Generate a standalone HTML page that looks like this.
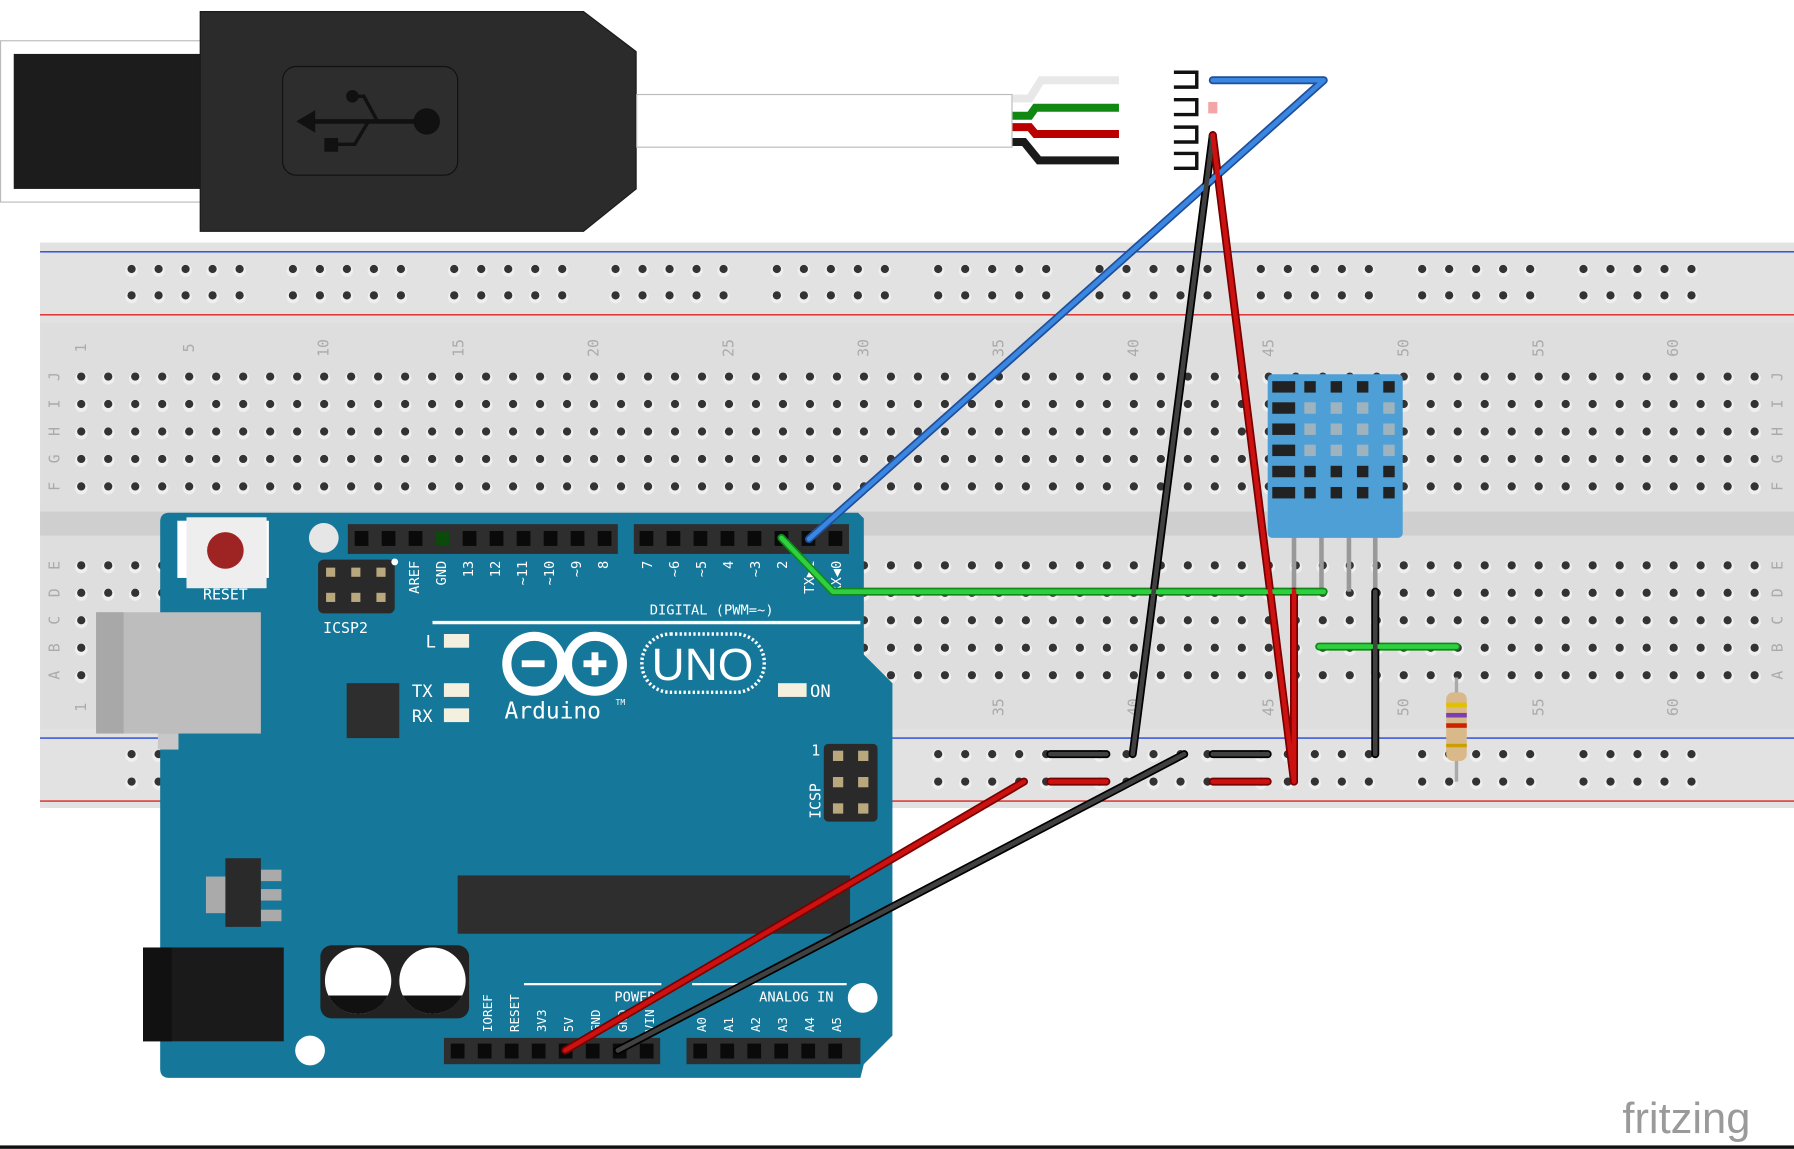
<!DOCTYPE html>
<html><head><meta charset="utf-8"><style>
html,body{margin:0;padding:0;background:#fff;overflow:hidden}
svg{display:block}
text{font-family:"DejaVu Sans Mono","Liberation Mono",monospace}
</style></head><body>
<svg id="s" width="1794" height="1149" viewBox="0 0 1568 1004" xmlns="http://www.w3.org/2000/svg">
<rect width="1568" height="1004" fill="#fff"/>
<rect x="0.5" y="35.5" width="176" height="141" fill="#fff" stroke="#bbb"/>
<rect x="12" y="47" width="165" height="118" fill="#1c1c1c"/>
<polygon points="175,10 510,10 556,45 556,165 510,202 175,202" fill="#2b2b2b" stroke="#1a1a1a"/>
<rect x="247" y="58" width="153" height="95" rx="12" fill="#2d2d2d" stroke="#111"/>
<g fill="#111" stroke="#111">
<line x1="268" y1="106" x2="372" y2="106" stroke-width="4"/>
<polygon points="260,106 275,97 275,115"/>
<circle cx="373" cy="106" r="11"/>
<circle cx="308" cy="84" r="5"/>
<polyline points="308,84 318,84 330,106" fill="none" stroke-width="3"/>
<rect x="284" y="121" width="11" height="11"/>
<polyline points="292,126 310,126 322,106" fill="none" stroke-width="3"/>
</g>
<rect x="556.5" y="82.5" width="328" height="46" fill="#fff" stroke="#bbb"/>
<g fill="none" stroke-width="7">
<polyline points="885,86 900,86 910,70 978,70" stroke="#e8e8e8"/>
<polyline points="885,101 900,101 905,94 978,94" stroke="#118811"/>
<polyline points="885,111 900,111 905,117 978,117" stroke="#bb0000"/>
<polyline points="885,124 895,124 908,140 978,140" stroke="#1a1a1a"/>
</g>
<g fill="none" stroke="#111" stroke-width="3">
<polyline points="1026,63 1046,63 1046,76 1026,76"/>
<polyline points="1026,87 1046,87 1046,100 1026,100"/>
<polyline points="1026,111 1046,111 1046,124 1026,124"/>
<polyline points="1026,134 1046,134 1046,147 1026,147"/>
</g>
<rect x="1056" y="89" width="8" height="10" fill="#f4a6a6"/>
<rect x="35" y="212" width="1533" height="494" fill="#dedede"/>
<rect x="35" y="212" width="1533" height="70" fill="#e2e2e2"/>
<rect x="35" y="637" width="1533" height="69" fill="#e2e2e2"/>
<rect x="35" y="447" width="1533" height="21" fill="#cfcfcf"/>
<line x1="35" y1="220" x2="1568" y2="220" stroke="#2244dd" stroke-width="1.2"/>
<line x1="35" y1="275" x2="1568" y2="275" stroke="#dd2222" stroke-width="1.2"/>
<line x1="35" y1="645" x2="1568" y2="645" stroke="#2244dd" stroke-width="1.2"/>
<line x1="35" y1="700" x2="1568" y2="700" stroke="#dd2222" stroke-width="1.2"/>
<g id="holes"></g>
<g id="labels" fill="#aaa" font-size="13"></g>
<path d="M148,448 L750,448 L755,453 L755,572 L780,597 L780,905 L755,930 L752,942 L148,942 Q140,942 140,934 L140,456 Q140,448 148,448 Z" fill="#15789a"/>
<rect x="84" y="535" width="144" height="106" fill="#bdbdbd"/>
<rect x="84" y="535" width="24" height="106" fill="#a8a8a8"/>
<rect x="138" y="641" width="18" height="14" fill="#c8c8c8"/>
<rect x="155" y="455" width="80" height="50" fill="#fff"/>
<rect x="163" y="452" width="70" height="62" fill="#eee"/>
<circle cx="197" cy="481" r="16" fill="#9e2323"/>
<text x="197" y="524" fill="#fff" font-size="13" text-anchor="middle">RESET</text>
<circle cx="283" cy="470" r="13" fill="#e6e6e6"/>
<circle cx="271" cy="918" r="13" fill="#fff"/>
<circle cx="754" cy="872" r="13" fill="#fff"/>
<rect x="304" y="458" width="236" height="26" fill="#2e2e2e"/>
<rect x="554" y="458" width="188" height="26" fill="#2e2e2e"/>
<rect x="388" y="907" width="189" height="23" fill="#2e2e2e"/>
<rect x="600" y="907" width="152" height="23" fill="#2e2e2e"/>
<g id="pins" fill="#0a0a0a"></g>
<rect x="278" y="489" width="67" height="47" rx="5" fill="#2a2a2a"/>
<g fill="#b9a77e">
<rect x="285" y="496" width="8" height="8"/><rect x="307" y="496" width="8" height="8"/><rect x="329" y="496" width="8" height="8"/>
<rect x="285" y="518" width="8" height="8"/><rect x="307" y="518" width="8" height="8"/><rect x="329" y="518" width="8" height="8"/>
</g>
<text x="302" y="553" fill="#fff" font-size="13" text-anchor="middle">ICSP2</text>
<circle cx="345" cy="491" r="3" fill="#fff"/>
<g fill="#fff" font-size="12" id="dlabels"></g>
<text x="622" y="537" fill="#fff" font-size="12" text-anchor="middle">DIGITAL (PWM=~)</text>
<line x1="378" y1="544" x2="752" y2="544" stroke="#fff" stroke-width="3"/>
<g fill="#f4f0e0"><rect x="388" y="554" width="22" height="12"/><rect x="388" y="597" width="22" height="12"/><rect x="388" y="619" width="22" height="12"/><rect x="680" y="597" width="25" height="12"/></g>
<g fill="#fff" font-size="15"><text x="372" y="566">L</text><text x="360" y="609">TX</text><text x="360" y="631">RX</text><text x="708" y="609">ON</text></g>
<rect x="303" y="597" width="46" height="48" fill="#2e2e2e"/>
<g fill="none" stroke="#fff" stroke-width="8">
<circle cx="467" cy="580" r="24"/><circle cx="520" cy="580" r="24"/>
</g>
<g fill="#fff"><rect x="456" y="577" width="20" height="6"/><rect x="510" y="577" width="20" height="6"/><rect x="517" y="570" width="6" height="20"/></g>
<rect x="561" y="554" width="107" height="51" rx="25" fill="none" stroke="#fff" stroke-width="3" stroke-dasharray="2 2"/>
<text x="614" y="594" fill="#fff" font-size="40" text-anchor="middle" style="font-family:'Liberation Sans',sans-serif">UNO</text>
<text x="441" y="628" fill="#fff" font-size="20">Arduino</text><text x="538" y="616" fill="#fff" font-size="7">TM</text>
<rect x="720" y="650" width="47" height="68" rx="4" fill="#2a2a2a"/>
<g fill="#b9a77e"><rect x="728" y="656" width="9" height="9"/><rect x="750" y="656" width="9" height="9"/><rect x="728" y="679" width="9" height="9"/><rect x="750" y="679" width="9" height="9"/><rect x="728" y="702" width="9" height="9"/><rect x="750" y="702" width="9" height="9"/></g>
<text x="713" y="660" fill="#fff" font-size="13" text-anchor="middle">1</text>
<text transform="translate(717,700) rotate(-90)" fill="#fff" font-size="13" text-anchor="middle">ICSP</text>
<rect x="400" y="765" width="343" height="51" fill="#2e2e2e"/>
<rect x="180" y="766" width="20" height="32" fill="#aaa"/>
<rect x="228" y="760" width="18" height="10" fill="#aaa"/><rect x="228" y="777" width="18" height="10" fill="#aaa"/><rect x="228" y="795" width="18" height="10" fill="#aaa"/>
<rect x="197" y="750" width="31" height="60" fill="#2a2a2a"/>
<rect x="125" y="828" width="123" height="82" fill="#1a1a1a"/>
<rect x="125" y="828" width="25" height="82" fill="#111"/>
<rect x="280" y="826" width="130" height="64" rx="10" fill="#222"/>
<circle cx="313" cy="857" r="29" fill="#fff"/><path d="M287,870 A29,29 0 0 0 339,870 Z" fill="#111"/>
<circle cx="378" cy="857" r="29" fill="#fff"/><path d="M352,870 A29,29 0 0 0 404,870 Z" fill="#111"/>
<line x1="458" y1="860" x2="578" y2="860" stroke="#fff" stroke-width="2"/>
<line x1="605" y1="860" x2="740" y2="860" stroke="#fff" stroke-width="2"/>
<text x="555" y="875" fill="#fff" font-size="12" text-anchor="middle">POWER</text>
<text x="696" y="875" fill="#fff" font-size="12" text-anchor="middle">ANALOG IN</text>
<g fill="#fff" font-size="11" id="plabels"></g>
<g stroke="#999" stroke-width="4"><line x1="1131" y1="468" x2="1131" y2="517"/><line x1="1155" y1="468" x2="1155" y2="517"/><line x1="1179" y1="468" x2="1179" y2="517"/><line x1="1202" y1="468" x2="1202" y2="517"/></g>
<rect x="1108" y="327" width="118" height="143" rx="4" fill="#4d9fd6"/>
<g id="dht" fill="#222"></g>
<line x1="1273" y1="592" x2="1273" y2="683" stroke="#aaa" stroke-width="3"/>
<rect x="1264" y="605" width="18" height="60" rx="6" fill="#d9b98a"/>
<rect x="1264" y="614" width="18" height="4" fill="#e0c000"/><rect x="1264" y="623" width="18" height="4" fill="#7a3fb0"/><rect x="1264" y="632" width="18" height="4" fill="#cc2200"/><rect x="1264" y="650" width="18" height="3" fill="#c9a000"/>
<g fill="none" stroke-linecap="round" stroke-linejoin="round">
<g stroke-width="7">
<polyline points="1060,70 1157,70 707,471" stroke="#1f4f99"/>
<polyline points="683,470 728,517 1157,517" stroke="#11881a"/>
<line x1="1153" y1="565" x2="1273" y2="565" stroke="#11881a"/>
<line x1="1060" y1="118" x2="990" y2="659" stroke="#000"/>
<line x1="1035" y1="659" x2="540" y2="918" stroke="#000"/>
<line x1="1202" y1="517" x2="1202" y2="659" stroke="#000"/>
<line x1="918" y1="659" x2="967" y2="659" stroke="#000"/>
<line x1="1060" y1="659" x2="1108" y2="659" stroke="#000"/>
<line x1="1060" y1="118" x2="1131" y2="683" stroke="#7a0000"/>
<line x1="1131" y1="517" x2="1131" y2="683" stroke="#7a0000"/>
<line x1="895" y1="683" x2="494" y2="918" stroke="#7a0000"/>
<line x1="918" y1="683" x2="967" y2="683" stroke="#7a0000"/>
<line x1="1060" y1="683" x2="1108" y2="683" stroke="#7a0000"/>
</g>
<g stroke-width="4">
<polyline points="1060,70 1157,70 707,471" stroke="#3a86e0"/>
<polyline points="683,470 728,517 1157,517" stroke="#2fd040"/>
<line x1="1153" y1="565" x2="1273" y2="565" stroke="#2fd040"/>
<line x1="1060" y1="118" x2="990" y2="659" stroke="#404040"/>
<line x1="1035" y1="659" x2="540" y2="918" stroke="#404040"/>
<line x1="1202" y1="517" x2="1202" y2="659" stroke="#404040"/>
<line x1="918" y1="659" x2="967" y2="659" stroke="#404040"/>
<line x1="1060" y1="659" x2="1108" y2="659" stroke="#404040"/>
<line x1="1060" y1="118" x2="1131" y2="683" stroke="#cc1111"/>
<line x1="1131" y1="517" x2="1131" y2="683" stroke="#cc1111"/>
<line x1="895" y1="683" x2="494" y2="918" stroke="#cc1111"/>
<line x1="918" y1="683" x2="967" y2="683" stroke="#cc1111"/>
<line x1="1060" y1="683" x2="1108" y2="683" stroke="#cc1111"/>
</g>
</g>
<text x="1418" y="990" fill="#9a9a9a" font-size="38" style="font-family:'Liberation Sans',sans-serif">fritzing</text>
<rect x="0" y="1001" width="1568" height="3" fill="#111"/>
</svg>
<script>
var NS="http://www.w3.org/2000/svg";
function el(p,t,a,txt){var e=document.createElementNS(NS,t);for(var k in a)e.setAttribute(k,a[k]);if(txt)e.textContent=txt;p.appendChild(e);return e;}
var H=document.getElementById('holes');
function hole(x,y){el(H,'circle',{cx:x,cy:y+1.5,r:5.5,fill:'#efefef'});el(H,'circle',{cx:x,cy:y,r:3.6,fill:'#333'});}
var rows=[329,353,377,401,425,494,518,542,566,590];
for(var c=0;c<63;c++){var x=71+c*23.59;rows.forEach(function(y){hole(x,y);});}
[235,258,659,683].forEach(function(y){for(var g=0;g<10;g++){for(var i=0;i<5;i++){hole(115+g*141+i*23.6,y);}}});
var L=document.getElementById('labels');
[1,5,10,15,20,25,30,35,40,45,50,55,60].forEach(function(n){var x=71+(n-1)*23.59+4;
el(L,'text',{transform:'translate('+x+',304) rotate(-90)','text-anchor':'middle'},String(n));
el(L,'text',{transform:'translate('+x+',618) rotate(-90)','text-anchor':'middle'},String(n));});
var rl='JIHGFEDCBA';rows.forEach(function(y,i){
el(L,'text',{transform:'translate(52,'+y+') rotate(-90)','text-anchor':'middle'},rl[i]);
el(L,'text',{transform:'translate(1558,'+y+') rotate(-90)','text-anchor':'middle'},rl[i]);});
var P=document.getElementById('pins');
for(var i=0;i<10;i++)el(P,'rect',{x:310+i*23.6,y:464,width:12,height:13,fill:i==3?'#0a4a0a':'#0a0a0a'});
for(var i=0;i<8;i++)el(P,'rect',{x:559+i*23.6,y:464,width:12,height:13});
for(var i=0;i<8;i++)el(P,'rect',{x:394+i*23.6,y:912,width:12,height:13});
for(var i=0;i<6;i++)el(P,'rect',{x:606+i*23.6,y:912,width:12,height:13});
var D=document.getElementById('dlabels');
var dl=['AREF','GND','13','12','~11','~10','~9','8'];
dl.forEach(function(t,i){var x=366+i*23.6;el(D,'text',{transform:'translate('+x+',490) rotate(-90)','text-anchor':'end'},t);});
var dr=['7','~6','~5','4','~3','2','TX▶1','RX◀0'];
dr.forEach(function(t,i){var x=570+i*23.6;el(D,'text',{transform:'translate('+x+',490) rotate(-90)','text-anchor':'end'},t);});
var PL=document.getElementById('plabels');
['IOREF','RESET','3V3','5V','GND','GND','VIN'].forEach(function(t,i){var x=430+i*23.6;el(PL,'text',{transform:'translate('+x+',902) rotate(-90)'},t);});
['A0','A1','A2','A3','A4','A5'].forEach(function(t,i){var x=617+i*23.6;el(PL,'text',{transform:'translate('+x+',902) rotate(-90)'},t);});
var DH=document.getElementById('dht');
for(var r=0;r<6;r++){var y=333+r*18.5;
el(DH,'rect',{x:1112,y:y,width:20,height:10});
for(var c=0;c<4;c++){el(DH,'rect',{x:1140+c*23,y:y,width:10,height:10,fill:(r>0&&r<4)?'#9fb3bf':'#222'});}}
</script>
</body></html>
